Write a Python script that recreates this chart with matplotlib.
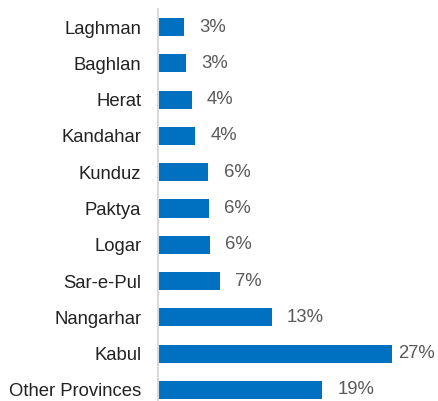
import matplotlib
matplotlib.use("Agg")
from matplotlib import pyplot as plt

provinces = ["Laghman", "Baghlan", "Herat", "Kandahar", "Kunduz", "Paktya",
             "Logar", "Sar-e-Pul", "Nangarhar", "Kabul", "Other Provinces"]
shares = [3.0, 3.2, 3.9, 4.3, 5.8, 5.9, 6.0, 7.1, 13.1, 27.0, 18.9]
labels = ["3%", "3%", "4%", "4%", "6%", "6%", "6%", "7%", "13%", "27%", "19%"]

plt.rcParams['font.family'] = ['Liberation Sans', 'DejaVu Sans']

fig = plt.figure(figsize=(4.38, 4.01), dpi=100)
ax = fig.add_axes([0.3607, -0.0175, 0.594, 0.995])

pos = list(range(len(provinces)))
ax.barh(pos, shares, height=0.5, color='#0070C0')

for i, (v, lab) in enumerate(zip(shares, labels)):
    # biggest bar gets its label pulled in so it fits
    off = 4 if v == max(shares) else 11
    ax.annotate(lab, (v, i), xytext=(off, 0), textcoords='offset points',
                va='center', ha='left', fontsize=13.3, color='#595959',
                annotation_clip=False)

ax.set_xlim(0, 30)
ax.set_ylim(len(provinces) - 0.5, -0.5)
ax.set_yticks(pos)
ax.set_yticklabels(provinces, fontsize=13.3, color='#222222')
ax.tick_params(axis='y', length=0, pad=12)
ax.set_xticks([])
for s in ['top', 'right', 'bottom']:
    ax.spines[s].set_visible(False)
ax.spines['left'].set_color('#D9D9D9')
ax.spines['left'].set_linewidth(1.5)

fig.savefig("out.png", dpi=100)
